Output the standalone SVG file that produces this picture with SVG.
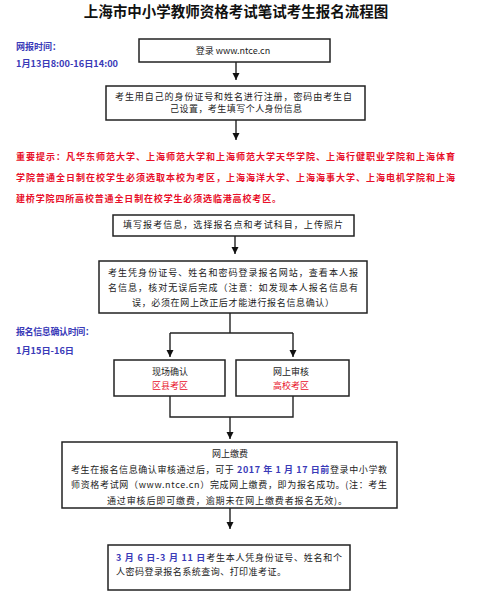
<svg xmlns="http://www.w3.org/2000/svg" width="485" height="600" viewBox="0 0 485 600">
<defs>
<style>
text{font-family:"Noto Sans CJK SC","Liberation Sans",sans-serif;font-size:9px;fill:#222}
.title{font-size:14.5px;font-weight:bold;fill:#111}
.box{fill:#fff;stroke:#222;stroke-width:1.5}
.blue{fill:#3a3ab8;font-weight:bold}
.red{fill:#e8102a}
.redb{fill:#e8102a;font-weight:bold}
.c{text-anchor:middle}
.line{fill:none;stroke:#222;stroke-width:1.4}
</style>
<marker id="ah" markerWidth="8" markerHeight="8" refX="7" refY="4" orient="auto" markerUnits="userSpaceOnUse">
<path d="M0,0.5 L7,4 L0,7.5 Z" fill="#111"/>
</marker>
</defs>
<rect width="485" height="600" fill="#fff"/>
<text class="title c" x="236" y="17">上海市中小学教师资格考试笔试考生报名流程图</text>

<g id="label-time1">
<text class="blue" x="16" y="50" font-size="8.5">网报时间：</text>
<text class="blue" x="16" y="67" font-size="8.5" textLength="102" lengthAdjust="spacingAndGlyphs">1月13日8:00-16日14:00</text>
</g>

<g id="n1">
<rect class="box" x="139" y="39" width="191" height="23"/>
<text class="c" x="233" y="54">登录 www.ntce.cn</text>
</g>

<g id="n2">
<rect class="box" x="106" y="86" width="259" height="34"/>
<text x="115" y="100" textLength="237" lengthAdjust="spacing">考生用自己的身份证号和姓名进行注册，密码由考生自</text>
<text class="c" x="236" y="112" textLength="132" lengthAdjust="spacing">己设置，考生填写个人身份信息</text>
</g>

<g id="note">
<text class="redb" x="16" y="160" textLength="439" lengthAdjust="spacing">重要提示：凡华东师范大学、上海师范大学和上海师范大学天华学院、上海行健职业学院和上海体育</text>
<text class="redb" x="16" y="181" textLength="439" lengthAdjust="spacing">学院普通全日制在校学生必须选取本校为考区，上海海洋大学、上海海事大学、上海电机学院和上海</text>
<text class="redb" x="16" y="202" textLength="265" lengthAdjust="spacing">建桥学院四所高校普通全日制在校学生必须选临港高校考区。</text>
</g>

<g id="n3">
<rect class="box" x="113" y="215" width="241" height="21"/>
<text x="123" y="228" textLength="220" lengthAdjust="spacing">填写报考信息，选择报名点和考试科目，上传照片</text>
</g>

<g id="n4">
<rect class="box" x="99" y="261" width="268" height="52"/>
<text x="108" y="276" textLength="250" lengthAdjust="spacing">考生凭身份证号、姓名和密码登录报名网站，查看本人报</text>
<text x="108" y="291" textLength="250" lengthAdjust="spacing">名信息，核对无误后完成（注意：如发现本人报名信息有</text>
<text class="c" x="233" y="306" textLength="202" lengthAdjust="spacing">误，必须在网上改正后才能进行报名信息确认）</text>
</g>

<g id="label-time2">
<text class="blue" x="16" y="335" font-size="8.5" textLength="78" lengthAdjust="spacing">报名信息确认时间：</text>
<text class="blue" x="16" y="354" font-size="8.5" textLength="58" lengthAdjust="spacingAndGlyphs">1月15日-16日</text>
</g>

<g id="n5a">
<rect class="box" x="114" y="360" width="111" height="36"/>
<text class="c" x="170" y="375">现场确认</text>
<text class="c red" x="170" y="389">区县考区</text>
</g>

<g id="n5b">
<rect class="box" x="236" y="360" width="113" height="36"/>
<text class="c" x="291" y="375">网上审核</text>
<text class="c red" x="291" y="389">高校考区</text>
</g>

<g id="n6">
<rect class="box" x="62" y="442" width="335" height="66"/>
<text class="c" x="230" y="457">网上缴费</text>
<text x="71" y="473" textLength="316" lengthAdjust="spacing">考生在报名信息确认审核通过后，可于 <tspan class="blue">2017 年 1 月 17 日前</tspan>登录中小学教</text>
<text x="71" y="488" textLength="316" lengthAdjust="spacing">师资格考试网（www.ntce.cn）完成网上缴费，即为报名成功。(注：考生</text>
<text x="107" y="504" textLength="240" lengthAdjust="spacing">通过审核后即可缴费，逾期未在网上缴费者报名无效)。</text>
</g>

<g id="n7">
<rect class="box" x="108" y="545" width="242" height="45"/>
<text x="116" y="561" textLength="226" lengthAdjust="spacing"><tspan class="blue">3 月 6 日-3 月 11 日</tspan>考生本人凭身份证号、姓名和个</text>
<text x="116" y="575" textLength="170" lengthAdjust="spacing">人密码登录报名系统查询、打印准考证。</text>
</g>

<g id="connectors">
<path class="line" d="M236,62 V80" marker-end="url(#ah)"/>
<path class="line" d="M236,120 V140" marker-end="url(#ah)"/>
<path class="line" d="M235,236 V254" marker-end="url(#ah)"/>
<path class="line" d="M230,313 V333"/>
<path class="line" d="M170,333 H293"/>
<path class="line" d="M170,333 V357" marker-end="url(#ah)"/>
<path class="line" d="M293,333 V357" marker-end="url(#ah)"/>
<path class="line" d="M170,396 V417 H293 V396"/>
<path class="line" d="M230,417 V439" marker-end="url(#ah)"/>
<path class="line" d="M230,508 V529" marker-end="url(#ah)"/>
</g>
</svg>
